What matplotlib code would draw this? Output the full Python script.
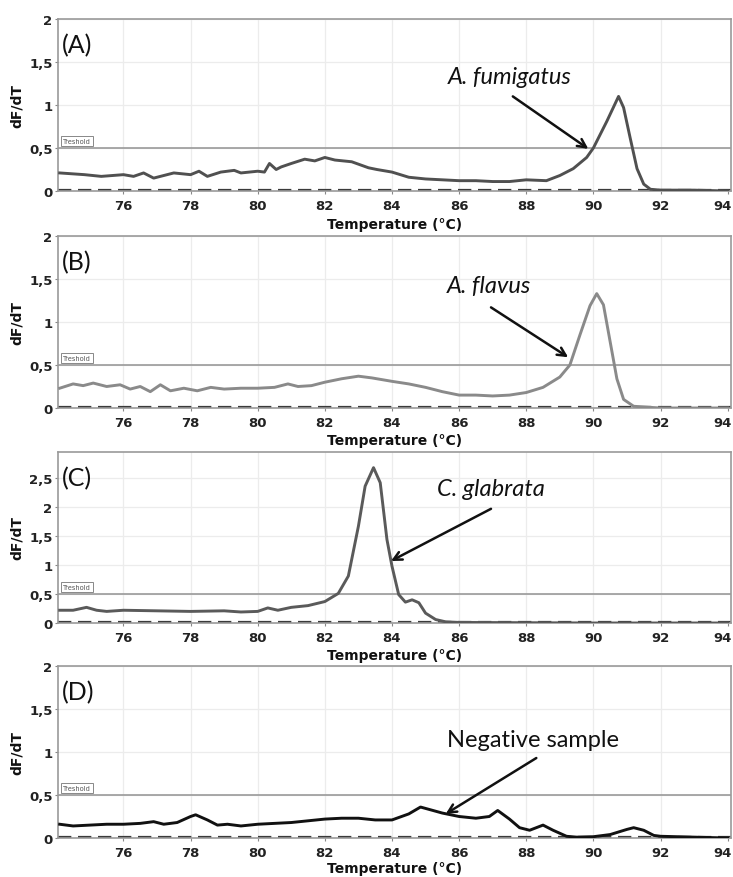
import matplotlib
matplotlib.use("Agg")
import matplotlib.pyplot as plt
import numpy as np

# ---------------- data ----------------
temp_A = [74.1, 74.84, 75.34, 76.0, 76.3, 76.6, 76.9, 77.3, 77.5, 78.0, 78.25, 78.5, 78.9, 79.3, 79.5,
          80.0, 80.2, 80.35, 80.55, 80.7, 81.0, 81.4, 81.7, 82.0, 82.3, 82.8, 83.3, 83.55, 84.0, 84.5,
          85.0, 86.0, 86.5, 87.0, 87.5, 88.0, 88.6, 89.0, 89.4, 89.8, 90.0, 90.4, 90.75, 90.9, 91.1,
          91.3, 91.5, 91.7, 92.0, 93.0, 94.0]
dfdt_A = [0.21, 0.19, 0.17, 0.19, 0.17, 0.21, 0.15, 0.19, 0.21, 0.19, 0.23, 0.17, 0.22, 0.24, 0.21,
          0.23, 0.22, 0.32, 0.25, 0.28, 0.32, 0.37, 0.35, 0.39, 0.36, 0.34, 0.27, 0.25, 0.22, 0.16,
          0.14, 0.12, 0.12, 0.11, 0.11, 0.13, 0.12, 0.18, 0.26, 0.39, 0.50, 0.81, 1.10, 0.97, 0.61,
          0.26, 0.08, 0.02, 0.01, 0.01, 0.0]

temp_B = [74.1, 74.5, 74.8, 75.1, 75.5, 75.9, 76.2, 76.5, 76.8, 77.1, 77.4, 77.8, 78.2, 78.6, 79.0,
          79.5, 80.0, 80.5, 80.9, 81.2, 81.6, 82.0, 82.5, 83.0, 83.4, 84.0, 84.5, 85.0, 85.5, 86.0,
          86.5, 87.0, 87.5, 88.0, 88.5, 89.0, 89.3, 89.6, 89.9, 90.1, 90.3, 90.5, 90.7, 90.9, 91.2,
          92.0, 93.0, 94.0]
dfdt_B = [0.23, 0.28, 0.26, 0.29, 0.25, 0.27, 0.22, 0.25, 0.19, 0.27, 0.20, 0.23, 0.20, 0.24, 0.22,
          0.23, 0.23, 0.24, 0.28, 0.25, 0.26, 0.30, 0.34, 0.37, 0.35, 0.31, 0.28, 0.24, 0.19, 0.15,
          0.15, 0.14, 0.15, 0.18, 0.24, 0.36, 0.50, 0.85, 1.19, 1.33, 1.20, 0.77, 0.34, 0.10, 0.02,
          0.0, 0.0, 0.0]

temp_C = [74.1, 74.5, 74.9, 75.2, 75.5, 76.0, 77.0, 78.0, 79.0, 79.5, 80.0, 80.3, 80.6, 81.0, 81.5,
          82.0, 82.4, 82.7, 83.0, 83.2, 83.45, 83.65, 83.85, 84.0, 84.2, 84.4, 84.6, 84.8, 85.0, 85.3,
          85.6, 86.0, 90.0, 94.0]
dfdt_C = [0.22, 0.22, 0.27, 0.22, 0.20, 0.22, 0.21, 0.20, 0.21, 0.19, 0.20, 0.26, 0.22, 0.27, 0.30,
          0.37, 0.51, 0.81, 1.67, 2.36, 2.68, 2.42, 1.44, 0.98, 0.49, 0.36, 0.40, 0.35, 0.17, 0.06,
          0.02, 0.01, 0.0, 0.0]

temp_D = [74.1, 74.5, 75.0, 75.5, 76.0, 76.5, 76.9, 77.2, 77.6, 78.0, 78.15, 78.5, 78.8, 79.1, 79.5,
          80.0, 80.5, 81.0, 81.5, 82.0, 82.5, 83.0, 83.5, 84.0, 84.5, 84.85, 85.5, 86.0, 86.5, 86.9,
          87.15, 87.5, 87.8, 88.1, 88.5, 88.8, 89.2, 89.5, 90.0, 90.5, 91.0, 91.2, 91.5, 91.8, 92.0,
          93.0, 94.0]
dfdt_D = [0.16, 0.14, 0.15, 0.16, 0.16, 0.17, 0.19, 0.16, 0.18, 0.25, 0.27, 0.21, 0.15, 0.16, 0.14,
          0.16, 0.17, 0.18, 0.20, 0.22, 0.23, 0.23, 0.21, 0.21, 0.28, 0.36, 0.29, 0.25, 0.23, 0.25,
          0.32, 0.22, 0.12, 0.09, 0.15, 0.09, 0.02, 0.01, 0.015, 0.04, 0.10, 0.12, 0.09, 0.03, 0.02,
          0.01, 0.0]

panel_labels = ["(A)", "(B)", "(C)", "(D)"]
species = ["A. fumigatus", "A. flavus", "C. glabrata", "Negative sample"]
x_ticks = [76, 78, 80, 82, 84, 86, 88, 90, 92, 94]
threshold = 0.5

# ---------------- figure ----------------
W, H = 733, 878
fig = plt.figure(figsize=(W / 100, H / 100), dpi=100)
fig.patch.set_facecolor("white")

# axes boxes in pixels: (top, bottom)
boxes = [(20, 192), (237, 409), (453, 624), (667, 839)]
left_px, right_px = 58, 731

series = [(temp_A, dfdt_A, "#505050"), (temp_B, dfdt_B, "#8a8a8a"),
          (temp_C, dfdt_C, "#5a5a5a"), (temp_D, dfdt_D, "#111111")]
ylims = [2.0, 2.0, 2.95, 2.0]
yticks = [[0, 0.5, 1, 1.5, 2], [0, 0.5, 1, 1.5, 2],
          [0, 0.5, 1, 1.5, 2, 2.5], [0, 0.5, 1, 1.5, 2]]

# annotation (text xy, arrow start, arrow end) in data coords
annots = [((87.5, 1.33), (87.6, 1.10), (89.85, 0.49)),
          ((86.9, 1.42), (86.95, 1.17), (89.25, 0.59)),
          ((86.95, 2.32), (86.95, 1.97), (83.97, 1.07)),
          ((88.2, 1.14), (88.3, 0.93), (85.6, 0.28))]


def fmt(v):
    s = ("%g" % v)
    return s.replace(".", ",")


tick_font = dict(fontsize=9.5, fontweight="bold", color="#222222")

for i, (top, bot) in enumerate(boxes):
    ax = fig.add_axes([left_px / W, 1 - bot / H, (right_px - left_px) / W, (bot - top) / H])
    t, y, c = series[i]
    ax.set_xlim(74.05, 94.1)
    ax.set_ylim(0, ylims[i])
    # grid
    for xv in x_ticks[:-1]:
        ax.axvline(xv, color="#ececec", lw=0.9, zorder=0)
    for yv in yticks[i][1:]:
        ax.axhline(yv, color="#ececec", lw=0.9, zorder=0)
    # threshold
    ax.axhline(threshold, color="#9a9a9a", lw=1.2, zorder=1)
    ax.text(74.2, threshold + 0.05 * ylims[i] / 2, "Treshold", fontsize=4.8, color="#555555",
            ha="left", va="bottom",
            bbox=dict(boxstyle="square,pad=0.3", fc="white", ec="#888888", lw=0.7), zorder=2)
    # baseline (other channels at zero)
    ax.axhline(0.004 * ylims[i], color="#3a3a3a", lw=1.6, ls=(0, (6, 3)), zorder=2)
    # curve
    ax.plot(t, y, color=c, lw=2.1, zorder=3, solid_joinstyle="round")

    ax.set_xticks(x_ticks)
    labels = [str(v) for v in x_ticks]
    labels[-1] = ""
    ax.set_xticklabels(labels, **tick_font)
    # last label (94) sits flush with the right edge, as in the reference
    ax.annotate(str(x_ticks[-1]), xy=(1, 0), xycoords="axes fraction", xytext=(0.5, -6),
                textcoords="offset points", ha="right", va="top", annotation_clip=False,
                **tick_font)
    ax.set_yticks(yticks[i])
    ax.set_yticklabels([fmt(v) for v in yticks[i]], **tick_font)
    ax.tick_params(axis="both", length=2, width=0.8, color="#888888", pad=2)
    ax.tick_params(axis="x", pad=4)
    for sp in ax.spines.values():
        sp.set_color("#9a9a9a")
        sp.set_linewidth(1.2)
    ax.set_xlabel("Temperature (°C)", fontsize=10, fontweight="bold",
                  labelpad=(1 if i == 3 else 3), color="#111111")
    ax.set_ylabel("dF/dT", fontsize=10, fontweight="bold", labelpad=4, color="#111111")

    ax.text(0.006, 0.92, panel_labels[i], transform=ax.transAxes, fontsize=18,
            family="Lato", ha="left", va="top", color="#111111")

    (tx, ty), (sx, sy), (ex, ey) = annots[i]
    ax.text(tx, ty, species[i], fontsize=17, family="Lato",
            style="normal" if i == 3 else "italic", ha="center", va="center", color="#111111")
    ax.annotate("", xy=(ex, ey), xytext=(sx, sy),
                arrowprops=dict(arrowstyle="->,head_length=0.6,head_width=0.3", color="#111111",
                                lw=1.8, shrinkA=0, shrinkB=0))

fig.savefig("out.png", dpi=100, facecolor="white")
